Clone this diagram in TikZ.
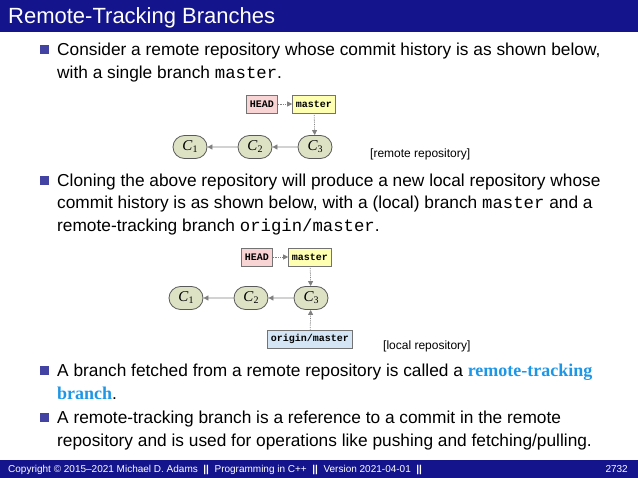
\documentclass[tikz,border=0pt]{standalone}
\usepackage{fontspec}
\setmainfont{Liberation Sans}
\setmonofont{Liberation Mono}
\newfontfamily\serifb{Liberation Serif}
\usetikzlibrary{shapes.misc,arrows.meta}
\definecolor{bar}{RGB}{20,20,140}
\definecolor{hl}{RGB}{30,150,230}
\newcommand{\cmt}[1]{{\serifb\itshape C}{\serifb\fontsize{10}{11}\selectfont\raisebox{-2pt}{#1}}}
\tikzset{x=1pt,y=-1pt,
 txt/.style={anchor=base west,inner sep=0pt,font=\fontsize{17.3}{19}\selectfont},
 bul/.style={fill=bar!80,minimum size=9pt,inner sep=0pt},
 commit/.style={draw=black!65,fill={rgb,255:red,222;green,226;blue,196},line width=0.8pt,rounded rectangle,minimum width=36pt,minimum height=23pt,inner sep=1pt,font=\fontsize{15}{16}\selectfont},
 ref/.style={draw=black!55,line width=0.6pt,minimum height=18pt,inner sep=3.5pt,font=\ttfamily\bfseries\fontsize{10}{11}\selectfont},
 conn/.style={draw=black!50,line width=0.8pt,-{Triangle[length=5pt,width=5pt]}},
 dconn/.style={conn,densely dotted},
 lab/.style={anchor=base west,inner sep=0pt,font=\fontsize{12}{13}\selectfont}}
\begin{document}
\begin{tikzpicture}
\useasboundingbox (0,0) rectangle (638,478);
\fill[bar] (0,0) rectangle (638,32);
\node[anchor=base west,inner sep=0pt,text=white,font=\fontsize{22}{24}\selectfont] (title) at (8,24) {Remote-Tracking Branches};
\fill[bar] (0,460) rectangle (638,478);
\node[anchor=base west,inner sep=0pt,text=white,font=\fontsize{10}{11}\selectfont] (foot) at (8,473) {Copyright © 2015–2021 Michael D. Adams \ \textbf{||}\ \ Programming in C++ \ \textbf{||}\ \ Version 2021-04-01 \ \textbf{||}};
\node[anchor=base east,inner sep=0pt,text=white,font=\fontsize{10}{11}\selectfont] (pg) at (628,473) {2732};

\node[bul] (b1) at (44,50) {};
\node[txt] (t1) at (57,56) {Consider a remote repository whose commit history is as shown below,};
\node[txt] (t2) at (57,79) {with a single branch \texttt{master}.};
\node[bul] (b2) at (44,181) {};
\node[txt] (t3) at (57,187) {Cloning the above repository will produce a new local repository whose};
\node[txt] (t4) at (57,209) {commit history is as shown below, with a (local) branch \texttt{master} and a};
\node[txt] (t5) at (57,232) {remote-tracking branch \texttt{origin/master}.};
\node[bul] (b3) at (44,371) {};
\node[txt] (t6) at (57,377) {A branch fetched from a remote repository is called a \textcolor{hl}{\serifb\bfseries\fontsize{18}{19}\selectfont remote-tracking}};
\node[txt] (t7) at (57,400) {\textcolor{hl}{\serifb\bfseries\fontsize{18}{19}\selectfont branch}.};
\node[bul] (b4) at (44,418) {};
\node[txt] (t8) at (57,424) {A remote-tracking branch is a reference to a commit in the remote};
\node[txt] (t9) at (57,447) {repository and is used for operations like pushing and fetching/pulling.};

% remote
\node[commit] (r1) at (190,147) {\cmt{1}};
\node[commit] (r2) at (255,147) {\cmt{2}};
\node[commit] (r3) at (315,147) {\cmt{3}};
\node[ref,fill={rgb,255:red,248;green,212;blue,212}] (rh) at (262,104) {HEAD};
\node[ref,fill={rgb,255:red,255;green,255;blue,178}] (rm) at (314,104) {master};
\draw[conn] (r3) -- (r2);
\draw[conn] (r2) -- (r1);
\draw[dconn] (rh) -- (rm);
\draw[dconn] (rm) -- (r3);
\node[lab] (rl) at (370,158) {[remote repository]};

% local
\node[commit] (l1) at (186,298) {\cmt{1}};
\node[commit] (l2) at (251,298) {\cmt{2}};
\node[commit] (l3) at (311,298) {\cmt{3}};
\node[ref,fill={rgb,255:red,248;green,212;blue,212}] (lh) at (257,257) {HEAD};
\node[ref,fill={rgb,255:red,255;green,255;blue,178}] (lm) at (310,257) {master};
\node[ref,fill={rgb,255:red,212;green,230;blue,245}] (lo) at (310,339) {origin/master};
\draw[conn] (l3) -- (l2);
\draw[conn] (l2) -- (l1);
\draw[dconn] (lh) -- (lm);
\draw[dconn] (lm) -- (l3);
\draw[dconn] (lo) -- (l3);
\node[lab] (ll) at (383,350) {[local repository]};
\end{tikzpicture}
\end{document}
